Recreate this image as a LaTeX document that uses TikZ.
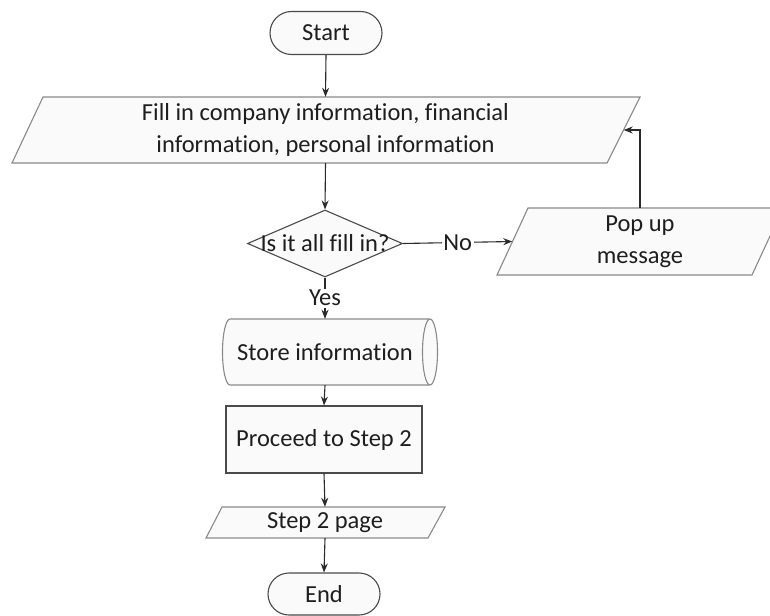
\documentclass[tikz,border=0pt]{standalone}
\usepackage{fontspec}
\setmainfont{Carlito}[Ligatures=NoCommon]
\usetikzlibrary{shapes.geometric,shapes.misc,arrows.meta,calc}

\definecolor{ink}{HTML}{1E1E1E}
\definecolor{edge}{HTML}{8A8A8A}
\definecolor{darkedge}{HTML}{4A4A4A}
\definecolor{wire}{HTML}{2A2A2A}
\definecolor{paper}{HTML}{FAFAFA}

\tikzset{
  txt/.style={font=\fontsize{24.5}{32}\selectfont, text=ink, align=center, inner sep=0pt},
  holder/.style={txt, rectangle, draw=none},
  terminal/.style={txt, rounded rectangle, draw=darkedge, fill=paper, line width=1.1pt},
  process/.style={txt, rectangle, draw=darkedge, fill=paper, line width=1.1pt},
  decision/.style={diamond, draw=darkedge, fill=paper, line width=1.1pt, inner sep=0pt},
  outline/.style={draw=edge, fill=paper, line width=1.1pt},
  flow/.style={draw=wire, line width=1.1pt, -{Stealth[length=9pt,width=7pt]}},
  branch/.style={txt, fill=white, inner sep=1.5pt},
}

\begin{document}
\begin{tikzpicture}[x=1pt, y=-1pt]
  \useasboundingbox (0,0) rectangle (770,615);
  \fill[white] (0,0) rectangle (770,615);

  % terminals and plain process box
  \node[terminal, minimum width=112pt, minimum height=43pt] (start) at (326,33) {Start};
  \node[process, minimum width=196pt, minimum height=67pt] (proceed) at (324,439.5) {Proceed to Step 2};
  \node[terminal, minimum width=112pt, minimum height=42pt] (end) at (324,594) {End};

  % input/output parallelograms: outline first, then the text holder on top
  \path[outline] (43,97) -- (640,97) -- (607,163) -- (12,163) -- cycle;
  \node[holder, minimum width=596pt, minimum height=66pt] (fill) at (325.5,130)
    {Fill in company information, financial\\information, personal information};

  \path[outline] (528,208) -- (783,208) -- (752,275) -- (497,275) -- cycle;
  \node[holder, minimum width=255pt, minimum height=67pt] (pop) at (640,241.5)
    {Pop up\\message};

  \path[outline] (222,507) -- (445,507) -- (428,538) -- (206,538) -- cycle;
  \node[holder, minimum width=222pt, minimum height=31pt] (page) at (325,522.5) {Step 2 page};

  % decision diamond; the question is wider than the diamond itself
  \node[decision, minimum width=155pt, minimum height=67pt] (dec) at (325,243.5) {};
  \node[txt] (question) at (dec.center) {Is it all fill in?};

  % stored data: horizontal cylinder with its open face on the right
  \path[outline] (430,319) -- (230,319)
    arc[start angle=90, end angle=270, x radius=7.5pt, y radius=33pt]
    -- (430,385)
    arc[start angle=270, end angle=450, x radius=7.5pt, y radius=33pt]
    arc[start angle=90, end angle=270, x radius=7.5pt, y radius=33pt];
  \node[holder, minimum width=200pt, minimum height=66pt] (store) at (325,352) {Store information};

  % connectors
  \draw[flow] (start.south) -- (fill.north);
  \draw[flow] (fill.south) -- (dec.north);
  \draw[flow] (dec.east) -- node[branch] {No} (pop.west);
  \draw[flow] (dec.south) -- node[branch] {Yes} (store.north);
  \draw[flow] (pop.north) |- (fill.east);
  \draw[flow] (store.south) -- (proceed.north);
  \draw[flow] (proceed.south) -- (page.north);
  \draw[flow] (page.south) -- (end.north);
\end{tikzpicture}
\end{document}
